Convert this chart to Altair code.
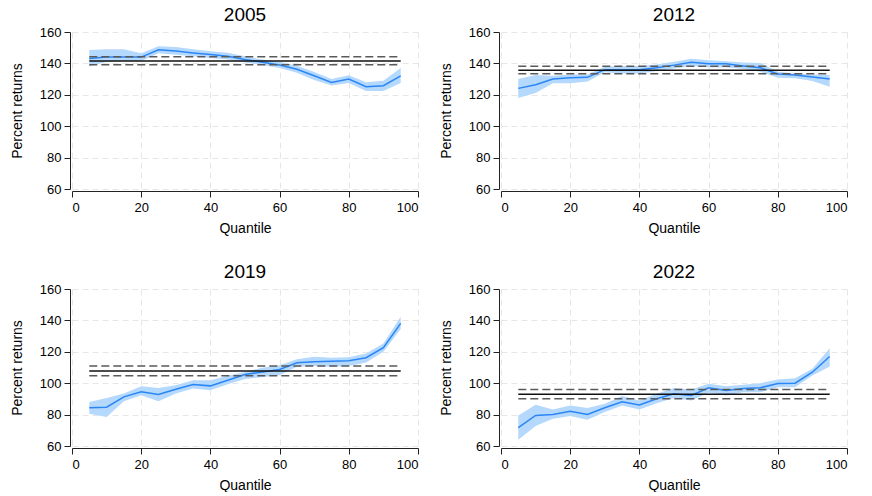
import altair as alt
import pandas as pd

quantiles = [5, 10, 15, 20, 25, 30, 35, 40, 45, 50, 55, 60, 65, 70, 75, 80, 85, 90, 95]
years = ["2005", "2012", "2019", "2022"]

mid_2005 = [143.1, 144.0, 144.0, 144.0, 148.7, 147.9, 146.7, 145.6, 144.6, 142.5, 140.8, 139.0, 136.3, 132.1, 127.9, 130.0, 125.2, 125.8, 132.1]
lo_2005 = [138.1, 141.0, 141.5, 141.5, 146.5, 145.5, 144.5, 143.5, 142.5, 140.5, 139.0, 137.0, 134.0, 129.5, 126.0, 127.5, 122.5, 122.5, 127.5]
hi_2005 = [148.5, 149.0, 149.0, 146.5, 151.0, 150.5, 149.0, 147.8, 146.8, 144.5, 142.5, 141.0, 138.5, 134.5, 130.0, 132.5, 128.0, 129.0, 137.0]
ols_2005 = [141.5, 139.2, 144.2]

mid_2012 = [124.1, 126.4, 130.1, 130.9, 131.1, 136.0, 136.0, 136.0, 137.2, 138.9, 140.7, 139.7, 139.7, 138.4, 137.2, 133.2, 132.6, 131.4, 130.1]
lo_2012 = [118.0, 121.1, 127.4, 127.4, 128.4, 134.3, 133.6, 133.6, 135.1, 136.8, 138.4, 137.6, 137.6, 136.4, 134.7, 130.9, 130.5, 128.8, 125.1]
hi_2012 = [130.1, 132.6, 132.2, 133.0, 133.0, 137.8, 138.4, 138.4, 139.3, 141.1, 143.0, 142.0, 141.4, 140.5, 140.3, 134.7, 133.6, 133.0, 132.6]
ols_2012 = [135.7, 133.4, 138.2]

mid_2019 = [84.3, 84.7, 91.3, 94.5, 92.8, 96.2, 99.1, 98.3, 101.9, 105.5, 107.2, 108.7, 113.0, 113.6, 114.0, 114.3, 116.2, 122.6, 138.1]
lo_2019 = [80.6, 78.5, 88.5, 92.3, 88.5, 93.4, 96.6, 95.5, 99.4, 102.6, 104.0, 105.1, 110.4, 110.9, 110.4, 110.9, 113.2, 120.0, 134.5]
hi_2019 = [88.1, 90.6, 93.4, 98.1, 97.0, 98.7, 101.9, 101.9, 104.7, 107.2, 109.8, 111.5, 115.3, 116.8, 116.2, 116.6, 118.9, 125.3, 142.3]
ols_2019 = [107.7, 104.7, 110.9]

mid_2022 = [71.7, 79.5, 80.1, 82.2, 80.1, 84.4, 88.2, 86.1, 90.1, 93.3, 92.2, 97.1, 95.4, 96.7, 97.1, 99.8, 100.0, 107.0, 117.0]
lo_2022 = [64.0, 72.7, 77.4, 79.1, 76.7, 81.6, 85.8, 83.3, 87.3, 90.5, 89.0, 93.9, 92.2, 94.3, 94.3, 97.5, 97.5, 104.9, 110.6]
hi_2022 = [79.5, 86.3, 83.3, 85.8, 84.2, 86.9, 91.8, 89.0, 93.3, 96.9, 96.0, 99.6, 98.1, 99.0, 100.0, 102.4, 103.2, 109.2, 122.3]
ols_2022 = [93.0, 90.1, 96.0]

x_ticks = [0, 20, 40, 60, 80, 100]
y_ticks = [60, 80, 100, 120, 140, 160]

FONT = "Liberation Sans"
W, H = 346, 157


def panel(year, mid, lo, hi, ols):
    df = pd.DataFrame({"q": quantiles, "mid": mid, "lo": lo, "hi": hi})
    ols_df = pd.DataFrame({
        "x1": [quantiles[0]] * 3,
        "x2": [quantiles[-1]] * 3,
        "v": ols,
        "kind": ["est", "lo", "hi"],
    })
    xs = alt.Scale(domain=[0, 100], nice=False, zero=False, padding=0)
    ys = alt.Scale(domain=[60, 160], nice=False, zero=False, padding=0)
    x_axis = alt.Axis(title="Quantile", values=x_ticks, offset=2, labelOverlap=False)
    y_axis = alt.Axis(title="Percent returns", values=y_ticks, offset=2, labelOverlap=False)

    band = alt.Chart(df).mark_area(color="#b5d8fd", opacity=1).encode(
        x=alt.X("q:Q", scale=xs, axis=x_axis),
        y=alt.Y("lo:Q", scale=ys, axis=y_axis),
        y2="hi:Q",
    )
    line = alt.Chart(df).mark_line(color="#2a86f5", strokeWidth=1.5).encode(
        x=alt.X("q:Q", scale=xs, axis=x_axis),
        y=alt.Y("mid:Q", scale=ys, axis=y_axis),
    )
    est = alt.Chart(ols_df).transform_filter(alt.datum.kind == "est").mark_rule(
        color="#111111", strokeWidth=1.5
    ).encode(
        x=alt.X("x1:Q", scale=xs, axis=x_axis), x2="x2:Q", y=alt.Y("v:Q", scale=ys, axis=y_axis)
    )
    ci = alt.Chart(ols_df).transform_filter(alt.datum.kind != "est").mark_rule(
        color="#5a5a5a", strokeWidth=1.5, strokeDash=[8, 4]
    ).encode(
        x=alt.X("x1:Q", scale=xs, axis=x_axis), x2="x2:Q", y=alt.Y("v:Q", scale=ys, axis=y_axis)
    )
    return alt.layer(band, line, est, ci).properties(
        width=W, height=H,
        title=alt.TitleParams(year, fontSize=19, font=FONT, fontWeight="normal", color="black", offset=1),
    )


p1 = panel(years[0], mid_2005, lo_2005, hi_2005, ols_2005)
p2 = panel(years[1], mid_2012, lo_2012, hi_2012, ols_2012)
p3 = panel(years[2], mid_2019, lo_2019, hi_2019, ols_2019)
p4 = panel(years[3], mid_2022, lo_2022, hi_2022, ols_2022)

chart = alt.vconcat(
    alt.hconcat(p1, p2, spacing=20),
    alt.hconcat(p3, p4, spacing=20),
    spacing=28,
).configure(
    font=FONT,
    padding={"left": 10, "top": 6, "right": 1, "bottom": 0},
).configure_view(
    stroke=None
).configure_axis(
    labelFont=FONT, titleFont=FONT,
    labelFontSize=13, titleFontSize=14,
    labelColor="black", titleColor="black",
    titleFontWeight="normal",
    domainColor="#222222", tickColor="#222222",
    tickSize=6, domainWidth=1,
    gridColor="#e6e6e6", gridDash=[6, 4], gridWidth=1,
    labelPadding=3, labelOverlap=False,
).configure_axisY(
    titlePadding=15,
).configure_axisX(
    titlePadding=7, labelPadding=4,
)

chart.save("out.html", embed_options={"renderer": "svg", "actions": False})
